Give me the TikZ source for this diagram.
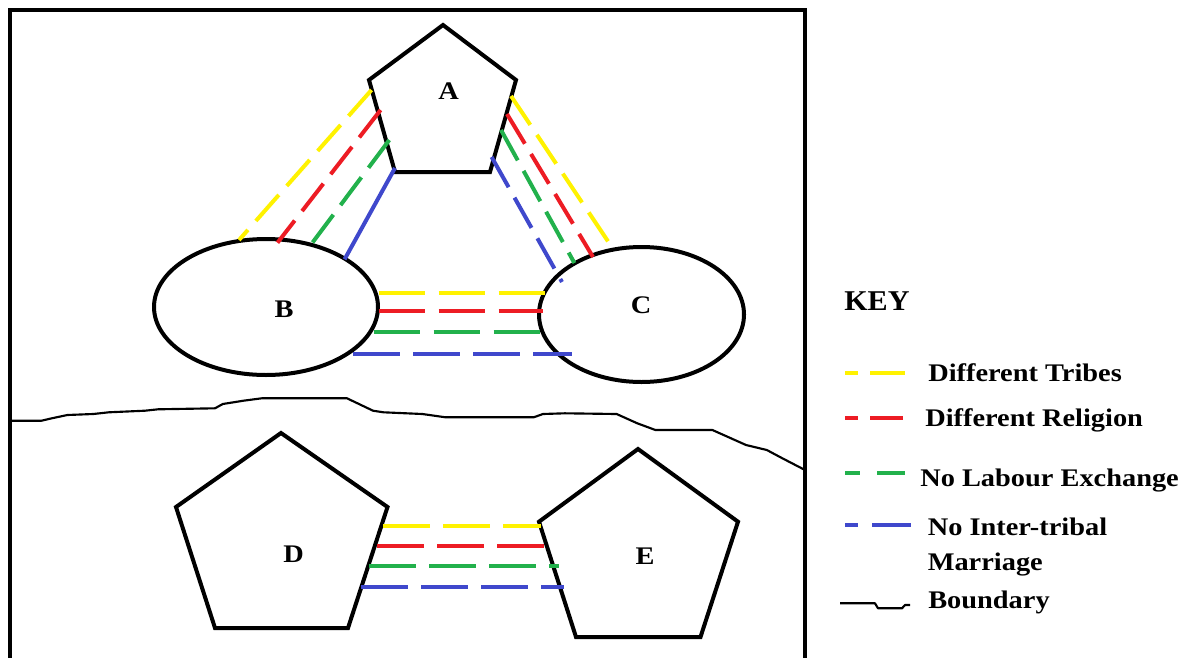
\documentclass[tikz,border=0pt]{standalone}
\usepackage{fontspec}
\usepackage{graphicx}
\usetikzlibrary{shapes.geometric}
\setmainfont{Liberation Serif}
\definecolor{cyel}{HTML}{FFF200}
\definecolor{cred}{HTML}{ED1C24}
\definecolor{cgrn}{HTML}{22B14C}
\definecolor{cblu}{HTML}{3F48CC}
\newcommand{\lblfont}{\fontsize{19pt}{22pt}\selectfont\bfseries}
\newcommand{\keyfont}{\fontsize{21.5pt}{24pt}\selectfont\bfseries}
\newcommand{\wtxt}[1]{\scalebox{1.12}[1]{#1}}
\tikzset{
  shp/.style={line width=3pt, line join=miter},
  bnd/.style={line width=1.6pt, line join=round},
  lab/.style={inner sep=0pt, font=\lblfont},
  keytxt/.style={inner sep=0pt, anchor=base west, font=\lblfont},
  tribe/.style={draw=cyel, line width=3pt},
  relig/.style={draw=cred, line width=3pt},
  labour/.style={draw=cgrn, line width=3pt},
  marry/.style={draw=cblu, line width=3pt},
  dshort/.style={dash pattern=on 26pt off 9pt},
  dlong/.style={dash pattern=on 35pt off 10pt},
}
\begin{document}
\begin{tikzpicture}[x=0.75pt,y=-0.75pt]
\useasboundingbox (0,0) rectangle (1196,657);
\fill[white] (0,0) rectangle (1196,657);
% frame
\draw[shp] (10,662) -- (10,10) -- (805,10) -- (805,662);
% pentagon A
\draw[shp] (443,25) -- (516,80) -- (490,172) -- (395,172) -- (369,80) -- cycle;
\node[lab] (A) at (448.5,91) {\wtxt{A}};
% ellipses B and C
\node[draw, shp, ellipse, minimum width=168pt, minimum height=102pt, inner sep=0pt] (Bshape) at (266,307) {};
\node[draw, shp, ellipse, minimum width=153.75pt, minimum height=101.25pt, inner sep=0pt] (Cshape) at (641.5,314.5) {};
\node[lab] (B) at (284,309.5) {\wtxt{B}};
\node[lab] (C) at (641,305.5) {\wtxt{C}};
% pentagons D and E
\draw[shp] (281,433) -- (387.5,507) -- (348,628) -- (215,628) -- (176,507) -- cycle;
\draw[shp] (638,449) -- (738,521.7) -- (700.5,637) -- (576,637) -- (539,521.7) -- cycle;
\node[lab] (D) at (293.5,554) {\wtxt{D}};
\node[lab] (E) at (645,556.5) {\wtxt{E}};
% connector end points
\coordinate (ab1) at (371.5,90);  \coordinate (ba1) at (239,240);
\coordinate (ab2) at (380.6,110); \coordinate (ba2) at (277.5,242.7);
\coordinate (ab3) at (389.3,140); \coordinate (ba3) at (309.4,246.7);
\coordinate (ab4) at (395,168);   \coordinate (ba4) at (344.6,259.3);
\coordinate (ac1) at (511,96);    \coordinate (ca1) at (613.8,250);
\coordinate (ac2) at (507,114);   \coordinate (ca2) at (593,257);
\coordinate (ac3) at (501,130);   \coordinate (ca3) at (574.4,263);
\coordinate (ac4) at (491.6,157); \coordinate (ca4) at (562,282);
\coordinate (bc1) at (378.6,292.7); \coordinate (cb1) at (546.7,292.7);
\coordinate (bc2) at (378.6,310.7); \coordinate (cb2) at (542.5,310.7);
\coordinate (bc3) at (373.6,332);   \coordinate (cb3) at (545,332);
\coordinate (bc4) at (353,354);     \coordinate (cb4) at (571.5,354);
\coordinate (de1) at (383.4,525.7); \coordinate (ed1) at (541,525.7);
\coordinate (de2) at (377,545.7);   \coordinate (ed2) at (548,545.7);
\coordinate (de3) at (369,565.7);   \coordinate (ed3) at (558.5,565.7);
\coordinate (de4) at (361,586.7);   \coordinate (ed4) at (563.7,586.7);
% A-B
\draw[tribe, dshort] (ab1) -- (ba1);
\draw[relig, dshort] (ab2) -- (ba2);
\draw[labour, dshort] (ab3) -- (ba3);
\draw[marry] (ab4) -- (ba4);
% A-C
\draw[tribe, dshort] (ac1) -- (ca1);
\draw[relig, dshort] (ac2) -- (ca2);
\draw[labour, dshort] (ac3) -- (ca3);
\draw[marry, dshort] (ac4) -- (ca4);
% B-C
\draw[tribe, dlong] (bc1) -- (cb1);
\draw[relig, dlong] (bc2) -- (cb2);
\draw[labour, dlong] (bc3) -- (cb3);
\draw[marry, dlong] (bc4) -- (cb4);
% D-E
\draw[tribe, dlong] (de1) -- (ed1);
\draw[relig, dlong] (de2) -- (ed2);
\draw[labour, dlong] (de3) -- (ed3);
\draw[marry, dlong] (de4) -- (ed4);
% boundary
\draw[bnd] (10.4,420.7) -- (41.5,420.7) -- (51.8,418.3) -- (67.4,415) -- (93.3,414) -- (108.8,412.3) -- (145,410.7) -- (158,409.3) -- (215,408.3) -- (222.8,404) -- (243.5,400.7) -- (261.7,398.3) -- (347,398.3) -- (373,410.7) -- (383.4,412.3) -- (422.3,414) -- (445.6,417.3) -- (533.7,417.3) -- (543,414) -- (564.8,413.3) -- (616.6,414) -- (637.3,423.3) -- (655.4,430) -- (712.4,430) -- (746,445) -- (766.8,450) -- (782.4,458.3) -- (805,470);
% key
\node[inner sep=0pt, anchor=base west, font=\keyfont] (key) at (844,310) {\scalebox{1.05}[1]{KEY}};
\draw[tribe] (845,373.3) -- (858,373.3);  \draw[tribe] (870,373.3) -- (905,373.3);
\draw[relig] (845,418.3) -- (858,418.3);  \draw[relig] (870,418.3) -- (903,418.3);
\draw[labour] (845,473.3) -- (860,473.3); \draw[labour] (877,473.3) -- (905,473.3);
\draw[marry] (845,525) -- (858,525);      \draw[marry] (872,525) -- (911,525);
\draw[bnd] (840,603.3) -- (875,603.3) -- (878,608.3) -- (902,608.3) -- (905,605) -- (910,605);
\node[keytxt] (k1) at (928,381) {\wtxt{Different Tribes}};
\node[keytxt] (k2) at (925,426.5) {\wtxt{Different Religion}};
\node[keytxt] (k3) at (920,486.5) {\wtxt{No Labour Exchange}};
\node[keytxt] (k4) at (927.5,535) {\wtxt{No Inter-tribal}};
\node[keytxt] (k5) at (927.5,570) {\wtxt{Marriage}};
\node[keytxt] (k6) at (928,608) {\wtxt{Boundary}};
\end{tikzpicture}
\end{document}
